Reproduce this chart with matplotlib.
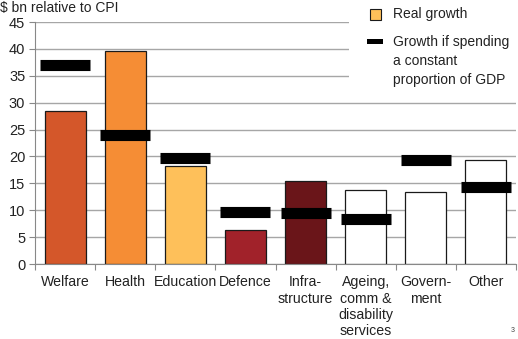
import numpy as np
import matplotlib.pyplot as plt
from matplotlib.patches import Rectangle

plt.rcParams['font.family'] = ['Liberation Sans', 'DejaVu Sans']

categories = ["Welfare", "Health", "Education", "Defence", "Infra-\nstructure",
              "Ageing,\ncomm &\ndisability\nservices", "Govern-\nment", "Other"]
real_growth = [28.4, 39.6, 18.2, 6.3, 15.4, 13.8, 13.3, 19.4]
gdp_growth = [37.0, 23.9, 19.8, 9.7, 9.4, 8.3, 19.4, 14.3]
bar_colors = ["#D4572A", "#F58D35", "#FEC05A", "#A1222A", "#6A1519",
              "white", "white", "white"]

W, H = 518, 339


def fx(px):
    return px / W


def fy(py):
    return 1 - py / H


fig = plt.figure(figsize=(5.18, 3.39), dpi=100)
ax = fig.add_axes([fx(35), fy(264), 481 / W, 242 / H])

x = np.arange(len(categories))
ax.bar(x, real_growth, width=0.68, color=bar_colors, edgecolor="#1a1a1a",
       linewidth=0.9, zorder=2)
ax.hlines(gdp_growth, x - 0.415, x + 0.415, colors="black", linewidth=8,
          capstyle="butt", zorder=3)

ax.set_xlim(-0.5, len(categories) - 0.5)
ax.set_ylim(0, 45)
ax.set_yticks(np.arange(0, 46, 5))
ax.yaxis.grid(True, color="#A6A6A6", linewidth=1.0, zorder=0)
ax.set_axisbelow(True)

ax.set_xticks(np.arange(-0.5, len(categories), 1.0))
ax.set_xticklabels([])
ax.set_xticks(x, minor=True)
ax.set_xticklabels(categories, minor=True, fontsize=10.2, color="#222222",
                   linespacing=1.22, va="top")
ax.tick_params(axis="x", which="minor", length=0, pad=8)
ax.tick_params(axis="x", which="major", length=4, color="#888888")
ax.tick_params(axis="y", length=4, color="#888888", labelsize=10.5,
               labelcolor="#222222", pad=3)

for s in ["top", "right"]:
    ax.spines[s].set_visible(False)
for s in ["left", "bottom"]:
    ax.spines[s].set_color("#888888")

# legend drawn by hand, on a white box that hides the gridlines behind it
fig.patches.append(Rectangle((fx(349), fy(90)), fx(518) - fx(349), 90 / H,
                             transform=fig.transFigure, facecolor="white",
                             edgecolor="none", zorder=5))
fig.patches.append(Rectangle((fx(370), fy(20)), 11 / W, 11 / H,
                             transform=fig.transFigure, facecolor="#FEC05A",
                             edgecolor="#1a1a1a", linewidth=0.8, zorder=6))
fig.patches.append(Rectangle((fx(367), fy(44)), 16 / W, 5 / H,
                             transform=fig.transFigure, facecolor="black",
                             edgecolor="none", zorder=6))
fig.text(fx(393), fy(14), "Real growth", fontsize=10, color="#222222",
         va="center", ha="left", zorder=7)
fig.text(fx(393), fy(42), "Growth if spending", fontsize=10, color="#222222",
         va="center", ha="left", zorder=7)
fig.text(fx(393), fy(61), "a constant", fontsize=10, color="#222222",
         va="center", ha="left", zorder=7)
fig.text(fx(393), fy(80), "proportion of GDP", fontsize=10, color="#222222",
         va="center", ha="left", zorder=7)

fig.text(0.0, fy(1), r"\$ bn relative to CPI", fontsize=10,
         color="#222222", va="top", ha="left")
fig.text(fx(513), fy(330), "3", fontsize=5, color="#444444",
         ha="center", va="center")

fig.savefig("out.png", dpi=100)
